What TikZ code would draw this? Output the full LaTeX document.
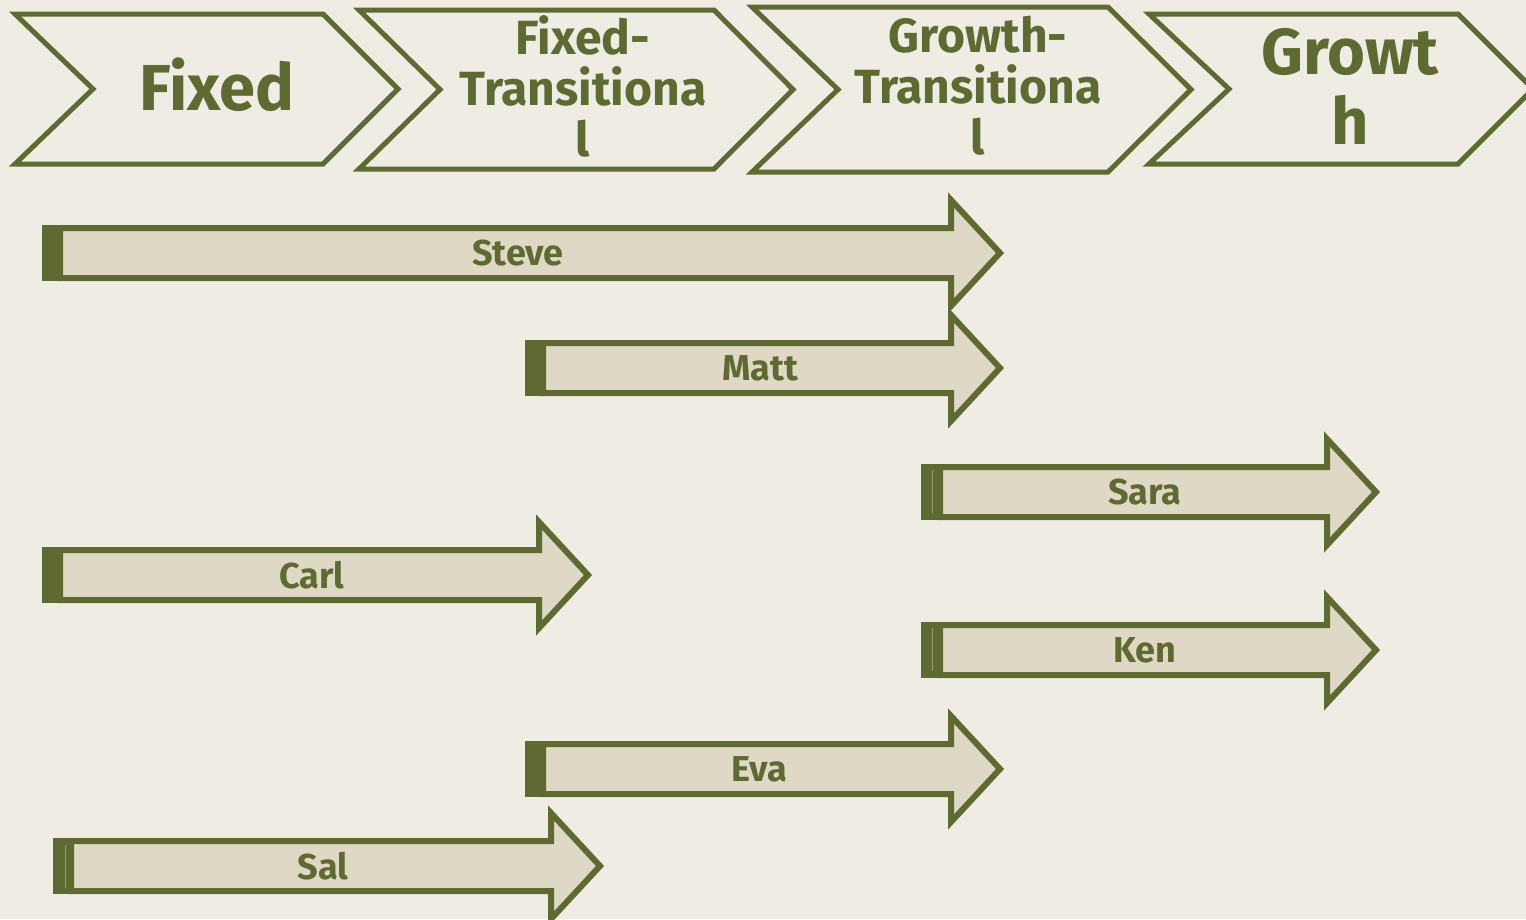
\documentclass[tikz,border=0pt]{standalone}
\usepackage{fontspec}
\setmainfont{Fira Sans}
\definecolor{olive}{HTML}{5F6A33}
\definecolor{paper}{HTML}{EFECE4}
\definecolor{sand}{HTML}{DED8C5}
\begin{document}
\begin{tikzpicture}[
        x=1pt, y=-1pt,
        phase/.style={draw=olive, line width=5pt, miter limit=20},
        phasetext/.style={text=olive, font=\bfseries, align=center, inner sep=0pt},
        body/.style={draw=olive, fill=sand, line width=6pt, miter limit=20},
        bar/.style={fill=olive},
        gap/.style={draw=olive!55!sand, line width=1pt},
        who/.style={text=olive, font=\fontsize{36}{38}\selectfont\bfseries, inner sep=0pt}
    ]
        \fill[paper] (0,0) rectangle (1526,919);
        \useasboundingbox (0,0) rectangle (1526,919);

        \draw[phase] (15,14) -- (323,14) -- (398,89) -- (323,164) -- (15,164) -- (93,89) -- cycle;
        \node[phasetext, font=\fontsize{65}{68}\selectfont\bfseries] (fixed) at (217,85) {Fixed};
        \draw[phase] (359,10) -- (714,10) -- (793,89.5) -- (714,169) -- (359,169) -- (440,89.5) -- cycle;
        \node[phasetext, font=\fontsize{48}{51}\selectfont\bfseries] (fixedtrans) at (583,86) {Fixed-\\Transitiona\\l};
        \draw[phase] (752,7) -- (1108,7) -- (1191,89.5) -- (1108,172) -- (752,172) -- (838,89.5) -- cycle;
        \node[phasetext, font=\fontsize{48}{51}\selectfont\bfseries] (growthtrans) at (978,86) {Growth-\\Transitiona\\l};
        \draw[phase] (1149,14) -- (1458,14) -- (1533,89) -- (1458,164) -- (1149,164) -- (1229,89) -- cycle;
        \node[phasetext, font=\fontsize{65}{70}\selectfont\bfseries] (growth) at (1350,86) {Growt\\h};

        \draw[body] (60,228) -- (951,228) -- (951,200) -- (1000,253) -- (951,306) -- (951,278) -- (60,278) -- cycle;
        \fill[bar] (42,225) rectangle (62,281);
        \node[who] (steve) at (518,253) {Steve};

        \draw[body] (543,343) -- (951,343) -- (951,315) -- (1000,368) -- (951,421) -- (951,393) -- (543,393) -- cycle;
        \fill[bar] (525,340) rectangle (545,396);
        \node[who] (matt) at (760,368) {Matt};

        \draw[body] (940,467) -- (1327,467) -- (1327,439) -- (1376,492) -- (1327,545) -- (1327,517) -- (940,517) -- cycle;
        \fill[bar] (921,464) rectangle (942,520);
        \draw[gap] (932,470) -- (932,513);
        \node[who] (sara) at (1145,492) {Sara};

        \draw[body] (60,550) -- (539,550) -- (539,522) -- (588,575) -- (539,628) -- (539,600) -- (60,600) -- cycle;
        \fill[bar] (42,547) rectangle (62,603);
        \node[who] (carl) at (312,575) {Carl};

        \draw[body] (940,625) -- (1327,625) -- (1327,597) -- (1376,650) -- (1327,703) -- (1327,675) -- (940,675) -- cycle;
        \fill[bar] (921,622) rectangle (942,678);
        \draw[gap] (932,628) -- (932,671);
        \node[who] (ken) at (1145,650) {Ken};

        \draw[body] (543,744) -- (951,744) -- (951,716) -- (1000,769) -- (951,822) -- (951,794) -- (543,794) -- cycle;
        \fill[bar] (525,741) rectangle (545,797);
        \node[who] (eva) at (759,769) {Eva};

        \draw[body] (71,841) -- (551,841) -- (551,813) -- (600,866) -- (551,919) -- (551,891) -- (71,891) -- cycle;
        \fill[bar] (53,838) rectangle (73,894);
        \draw[gap] (65,845) -- (65,888);
        \node[who] (sal) at (323,866) {Sal};
    \end{tikzpicture}
\end{document}
